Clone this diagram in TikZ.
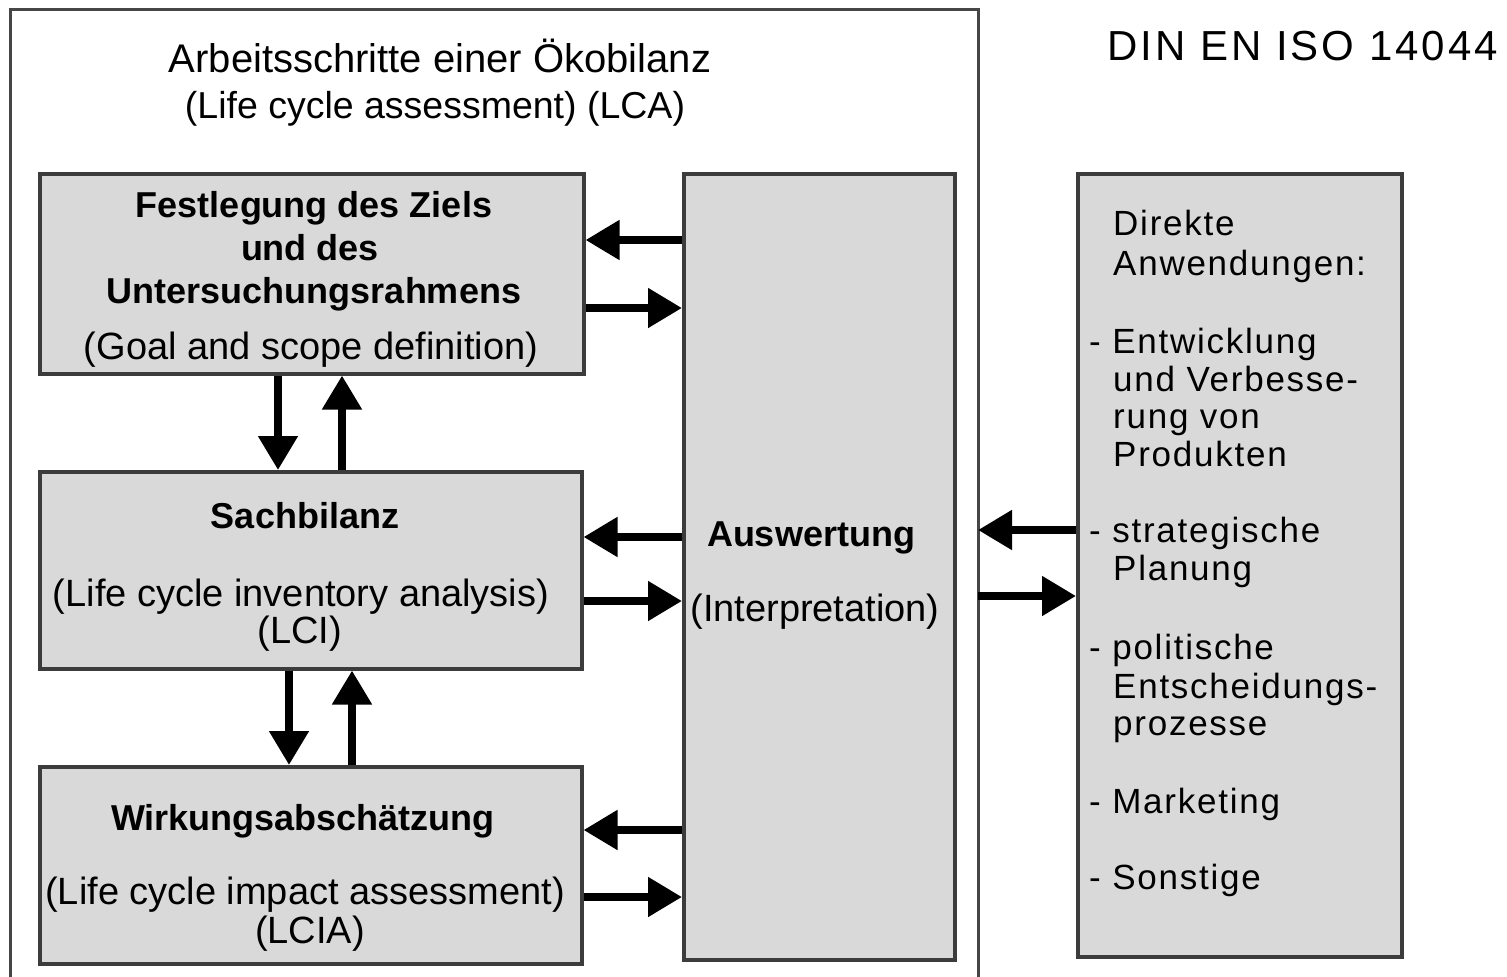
\documentclass[tikz,border=0pt]{standalone}
\usepackage{fontspec}
\setmainfont{Liberation Sans}
\newfontfamily\rfont[LetterSpace=5]{Liberation Sans}
\newfontfamily\dinfont[LetterSpace=7]{Liberation Sans}
\usetikzlibrary{arrows.meta}
\definecolor{boxfill}{RGB}{217,217,217}
\definecolor{boxline}{RGB}{60,60,60}
\definecolor{frameline}{RGB}{70,70,70}
\tikzset{
  box/.style={draw=boxline, line width=3.5pt, fill=boxfill},
  titletext/.style={anchor=base, inner sep=0pt, font=\fontsize{40}{44}\selectfont},
  headtext/.style={anchor=base, inner sep=0pt, font=\bfseries\fontsize{36}{40}\selectfont},
  subtext/.style={anchor=base, inner sep=0pt, font=\fontsize{38}{42}\selectfont},
  rtext/.style={anchor=base west, inner sep=0pt, font=\rfont\fontsize{35}{38}\selectfont},
  arr/.style={line width=8pt, -{Triangle[length=34pt,width=38pt]}},
}
\begin{document}
\begin{tikzpicture}[x=1pt,y=-1pt]
\useasboundingbox (0,0) rectangle (1507,977);
\fill[white] (0,0) rectangle (1507,977);
% outer frame
\draw[frameline, line width=3pt] (10,990) -- (10,9) -- (978,9) -- (978,990);
\coordinate (frameR) at (978,500);
% title
\node[titletext] (t1) at (440,72) {Arbeitsschritte einer Ökobilanz};
\node[titletext, font=\fontsize{37.5}{42}\selectfont] (t2) at (435,118) {(Life cycle assessment) (LCA)};
\node[anchor=base east, inner sep=0pt, font=\dinfont\fontsize{42}{46}\selectfont] (din) at (1498,60) {DIN EN ISO 14044};
% boxes
\node[box, minimum width=544pt, minimum height=200pt, anchor=north west] (b1) at (38,172) {};
\node[box, minimum width=542pt, minimum height=197pt, anchor=north west] (b2) at (38,470) {};
\node[box, minimum width=542pt, minimum height=197pt, anchor=north west] (b3) at (38,765) {};
\node[box, minimum width=271pt, minimum height=786pt, anchor=north west] (aus) at (682,172) {};
\node[box, minimum width=324pt, minimum height=783pt, anchor=north west] (rb) at (1076,172) {};
% box 1 text
\node[headtext] (b1a) at (314,217) {Festlegung des Ziels};
\node[headtext] (b1b) at (310,260) {und des};
\node[headtext] (b1c) at (314,303) {Untersuchungsrahmens};
\node[subtext] (b1d) at (311,359) {(Goal and scope definition)};
% box 2 text
\node[headtext] (b2a) at (305,528) {Sachbilanz};
\node[subtext] (b2b) at (301,606) {(Life cycle inventory analysis)};
\node[subtext] (b2c) at (300,643) {(LCI)};
% box 3 text
\node[headtext] (b3a) at (303,830) {Wirkungsabschätzung};
\node[subtext] (b3b) at (305,904) {(Life cycle impact assessment)};
\node[subtext] (b3c) at (310,943) {(LCIA)};
% Auswertung
\node[headtext] (ausa) at (811,546) {Auswertung};
\node[subtext] (ausb) at (815,621) {(Interpretation)};
% right box text
\node[rtext] (r1) at (1113,235) {Direkte};
\node[rtext] (r2) at (1113,275) {Anwendungen:};
\node[rtext] (r3) at (1089,353) {- Entwicklung};
\node[rtext] (r4) at (1113,391) {und Verbesse-};
\node[rtext] (r5) at (1113,428) {rung von};
\node[rtext] (r6) at (1113,466) {Produkten};
\node[rtext] (r7) at (1089,542) {- strategische};
\node[rtext] (r8) at (1113,580) {Planung};
\node[rtext] (r9) at (1089,659) {- politische};
\node[rtext] (r10) at (1113,698) {Entscheidungs-};
\node[rtext] (r11) at (1113,735) {prozesse};
\node[rtext] (r12) at (1089,813) {- Marketing};
\node[rtext] (r13) at (1089,889) {- Sonstige};
% horizontal arrows
\draw[arr] (aus.west |- 0,240) -- (b1.east |- 0,240);
\draw[arr] (b1.east |- 0,308) -- (aus.west |- 0,308);
\draw[arr] (aus.west |- 0,537) -- (b2.east |- 0,537);
\draw[arr] (b2.east |- 0,601) -- (aus.west |- 0,601);
\draw[arr] (aus.west |- 0,830) -- (b3.east |- 0,830);
\draw[arr] (b3.east |- 0,897) -- (aus.west |- 0,897);
% vertical arrows
\draw[arr] (b1.south -| 278,0) -- (b2.north -| 278,0);
\draw[arr] (b2.north -| 342,0) -- (b1.south -| 342,0);
\draw[arr] (b2.south -| 289,0) -- (b3.north -| 289,0);
\draw[arr] (b3.north -| 352,0) -- (b2.south -| 352,0);
% right arrows
\draw[arr] (rb.west |- 0,530) -- (frameR |- 0,530);
\draw[arr] (frameR |- 0,596) -- (rb.west |- 0,596);
\end{tikzpicture}
\end{document}
